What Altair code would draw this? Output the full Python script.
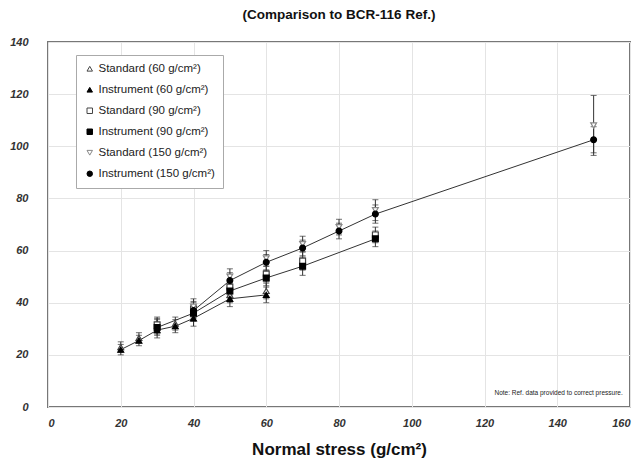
import altair as alt
import pandas as pd

# ---- data ----
x60 = [20, 25, 30, 35, 40, 50, 60]
std60 = [23.0, 26.5, 31.0, 32.0, 36.0, 43.0, 44.5]
ins60 = [22.0, 25.5, 29.5, 31.0, 34.0, 41.5, 43.0]
err60 = [2.0, 2.0, 3.0, 2.5, 3.0, 3.0, 3.0]

x90 = [30, 40, 50, 60, 70, 90]
std90 = [31.5, 37.5, 46.0, 51.0, 56.0, 66.0]
ins90 = [30.5, 36.0, 44.5, 49.5, 54.0, 64.5]
err90 = [3.0, 3.0, 3.0, 3.0, 3.5, 3.0]

x150 = [40, 50, 60, 70, 80, 90, 150]
std150 = [38.5, 50.0, 57.0, 62.5, 69.0, 75.5, 108.0]
ins150 = [37.0, 48.5, 55.5, 61.0, 67.5, 74.0, 102.5]
err_std150 = [3.0, 3.0, 3.0, 3.0, 3.0, 4.0, 11.5]
err_ins150 = [3.0, 3.0, 3.0, 3.0, 3.0, 3.5, 5.0]

series_names = [
    "Standard (60 g/cm²)", "Instrument (60 g/cm²)",
    "Standard (90 g/cm²)", "Instrument (90 g/cm²)",
    "Standard (150 g/cm²)", "Instrument (150 g/cm²)",
]
shapes = ["triangle-up", "triangle-up", "square", "square", "triangle-down", "circle"]
fills = ["white", "black", "white", "black", "white", "black"]
strokes = ["#444444", "black", "#444444", "black", "#888888", "black"]

note_text = ["Note: Ref. data provided to correct pressure."]
note_x = [158]
note_y = [5.5]

title_text = "(Comparison to BCR-116 Ref.)"
x_title = "Normal stress (g/cm²)"

# ---- build table ----
rows = []
def add(name, xs, ys, es):
    for xv, yv, ev in zip(xs, ys, es):
        rows.append({"series": name, "x": xv, "y": yv, "lo": yv - ev, "hi": yv + ev})

add(series_names[0], x60, std60, err60)
add(series_names[1], x60, ins60, err60)
add(series_names[2], x90, std90, err90)
add(series_names[3], x90, ins90, err90)
add(series_names[4], x150, std150, err_std150)
add(series_names[5], x150, ins150, err_ins150)
df = pd.DataFrame(rows)
df_lines = df[df["series"].str.startswith("Instrument")]
df_note = pd.DataFrame({"t": note_text, "x": note_x, "y": note_y})

FONT = "Liberation Sans"

xscale = alt.Scale(domain=[0, 160], nice=False)
yscale = alt.Scale(domain=[0, 140], nice=False)

xaxis = alt.Axis(values=list(range(0, 161, 20)), title=x_title, grid=True, ticks=False,
                 domain=False, labelPadding=10, labelFontSize=11, labelFontStyle="italic",
                 labelFontWeight="bold", labelColor="#333", labelFont=FONT,
                 titleFont=FONT, titleFontSize=17, titleFontWeight="bold",
                 titleColor="#111", titlePadding=13, gridColor="#e4e4e4")
yaxis = alt.Axis(values=list(range(0, 141, 20)), title=None, grid=True, ticks=False,
                 domain=False, labelPadding=20, labelFontSize=11, labelFontStyle="italic",
                 labelFontWeight="bold", labelColor="#333", labelFont=FONT,
                 gridColor="#e4e4e4")

base = alt.Chart(df)

lines = alt.Chart(df_lines).mark_line(color="#333", strokeWidth=1).encode(
    x=alt.X("x:Q", scale=xscale, axis=xaxis),
    y=alt.Y("y:Q", scale=yscale, axis=yaxis),
    detail="series:N",
)

rules = base.mark_rule(color="#333", strokeWidth=1).encode(
    x="x:Q", y="lo:Q", y2="hi:Q")
cap_lo = base.mark_tick(orient="horizontal", color="#333", size=6, thickness=1).encode(
    x="x:Q", y="lo:Q")
cap_hi = base.mark_tick(orient="horizontal", color="#333", size=6, thickness=1).encode(
    x="x:Q", y="hi:Q")

legend = alt.Legend(orient="none", legendX=28, legendY=13, title=None,
                    fillColor="white", strokeColor="#aaaaaa", padding=8,
                    labelFontSize=11.5, labelFont=FONT, labelColor="#222",
                    labelOffset=3, symbolSize=30, rowPadding=8, symbolStrokeWidth=1)

points = base.mark_point(opacity=1, strokeWidth=1.2, size=34).encode(
    x="x:Q", y="y:Q",
    shape=alt.Shape("series:N", sort=series_names,
                    scale=alt.Scale(domain=series_names, range=shapes), legend=legend),
    fill=alt.Fill("series:N", sort=series_names,
                  scale=alt.Scale(domain=series_names, range=fills), legend=legend),
    stroke=alt.Stroke("series:N", sort=series_names,
                      scale=alt.Scale(domain=series_names, range=strokes), legend=legend),
)

note = alt.Chart(df_note).mark_text(align="right", baseline="middle", fontSize=6.5,
                                    font=FONT, color="#222").encode(
    x="x:Q", y="y:Q", text="t:N")

chart = alt.layer(lines, rules, cap_lo, cap_hi, points, note).properties(
    width=582, height=365,
    title=alt.TitleParams(title_text, font=FONT, fontSize=13.5, fontWeight="bold",
                          color="#111", anchor="middle", offset=15),
    autosize=alt.AutoSizeParams(type="none"),
    padding={"left": 40, "top": 34, "right": 6, "bottom": 59},
).configure_view(stroke="#777", strokeWidth=2)

chart.save("out.html", embed_options={"renderer": "svg", "actions": False})
